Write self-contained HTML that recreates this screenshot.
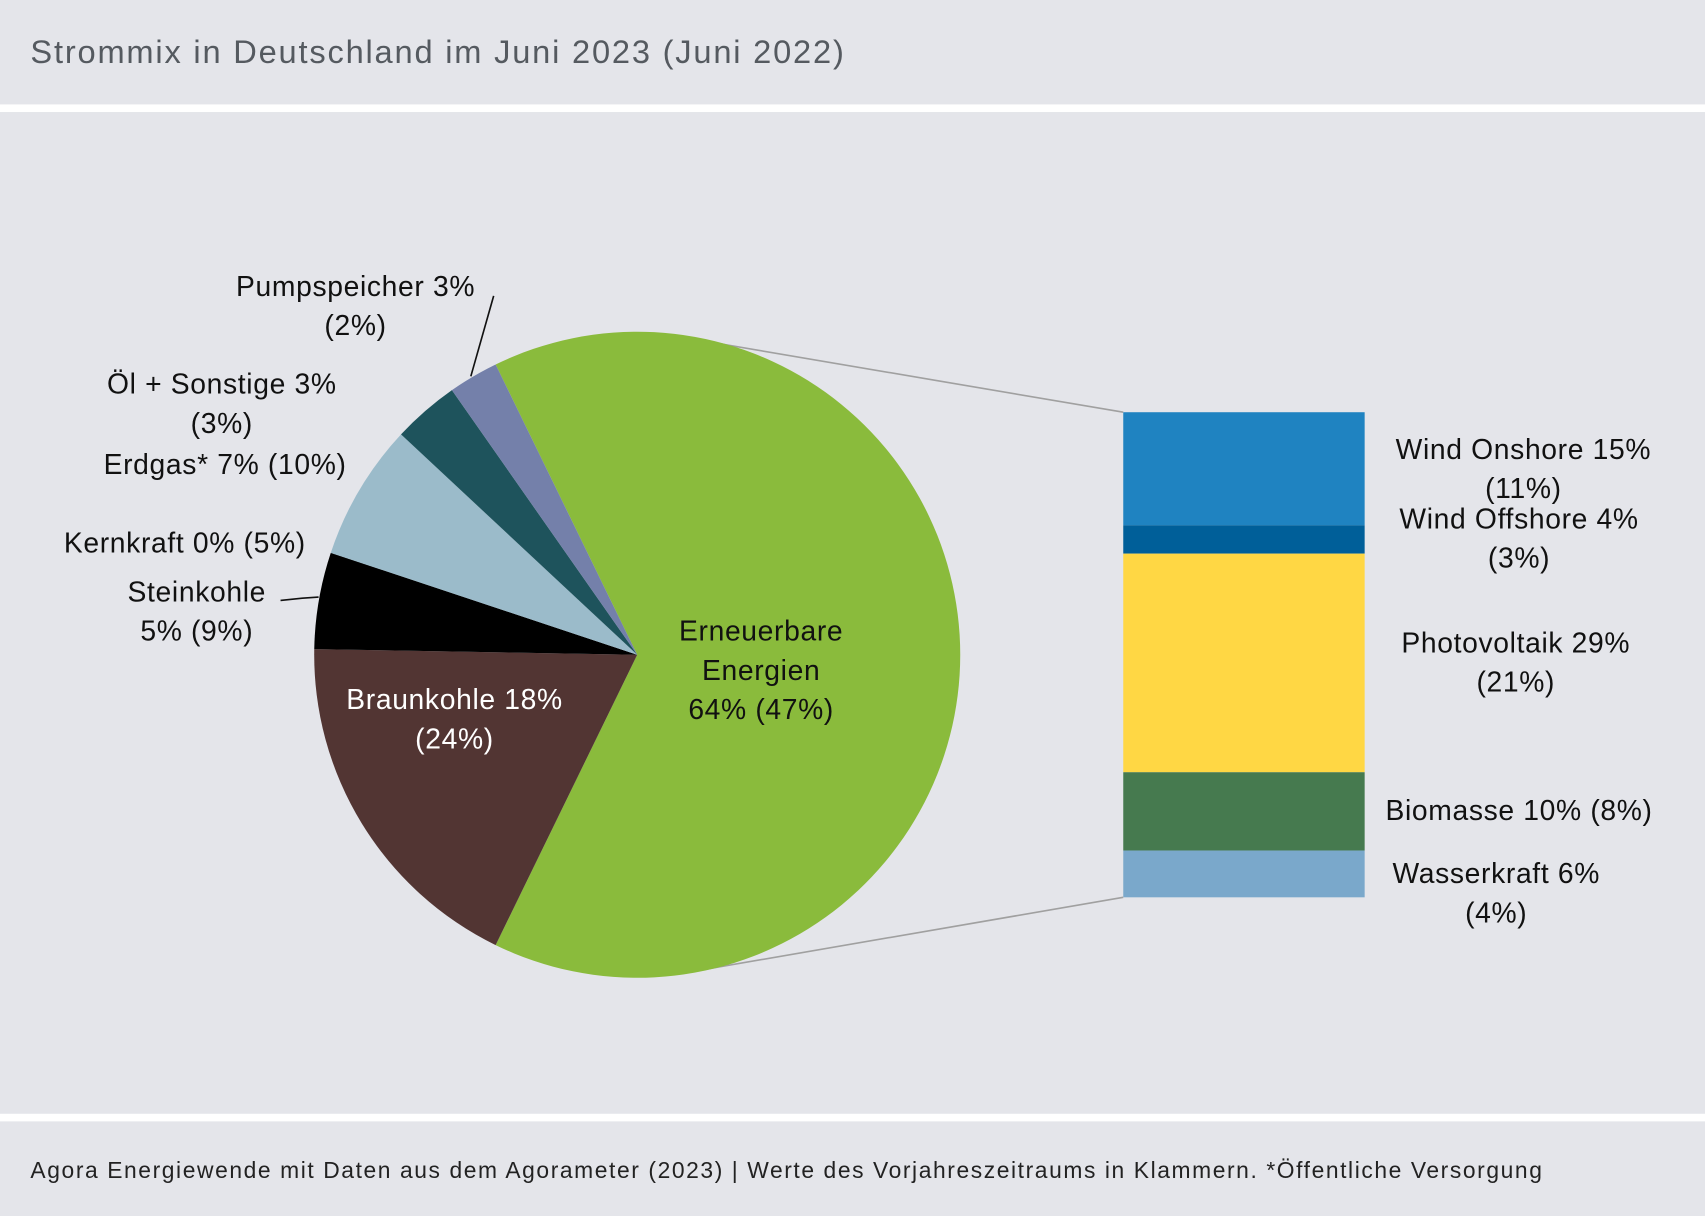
<!DOCTYPE html>
<html><head><meta charset="utf-8"><style>
html,body{margin:0;padding:0;background:#e4e5ea;}
svg{display:block;}
text{font-family:"Liberation Sans","DejaVu Sans",sans-serif;}
</style></head><body>
<svg width="1705" height="1216" viewBox="0 0 1568 1118" preserveAspectRatio="none" xmlns="http://www.w3.org/2000/svg">
<rect x="0" y="0" width="1568" height="1118" fill="#e4e5ea"/>
<rect x="0" y="96" width="1568" height="7" fill="#fff"/>
<rect x="0" y="1024" width="1568" height="7" fill="#fff"/>
<text x="28" y="58" font-size="30" fill="#555a60" textLength="748" lengthAdjust="spacing">Strommix in Deutschland im Juni 2023 (Juni 2022)</text>
<text x="28" y="1083" font-size="21" fill="#222" textLength="1390" lengthAdjust="spacing">Agora Energiewende mit Daten aus dem Agorameter (2023) | Werte des Vorjahreszeitraums in Klammern. *Öffentliche Versorgung</text>

<line x1="638" y1="312" x2="1033" y2="379" stroke="#a0a0a0" stroke-width="1.5"/>
<line x1="638" y1="893" x2="1033" y2="825" stroke="#a0a0a0" stroke-width="1.5"/>

<path d="M586,602 L455.8,335.1 A297,297 0 1 1 455.8,868.9 Z" fill="#8abb3c"/>
<path d="M586,602 L455.8,868.9 A297,297 0 0 1 289.0,596.8 Z" fill="#523533"/>
<path d="M586,602 L289.0,596.8 A297,297 0 0 1 304.2,508.3 Z" fill="#000"/>
<path d="M586,602 L304.2,508.3 A297,297 0 0 1 368.8,399.4 Z" fill="#9bbbca"/>
<path d="M586,602 L368.8,399.4 A297,297 0 0 1 415.6,358.7 Z" fill="#1e535c"/>
<path d="M586,602 L415.6,358.7 A297,297 0 0 1 455.8,335.1 Z" fill="#7480aa"/>

<rect x="1033" y="379" width="222" height="104" fill="#1f83c1"/>
<rect x="1033" y="483" width="222" height="26" fill="#005f99"/>
<rect x="1033" y="509" width="222" height="201" fill="#ffd744"/>
<rect x="1033" y="710" width="222" height="72" fill="#467a4f"/>
<rect x="1033" y="782" width="222" height="43" fill="#7aa8cb"/>

<g font-size="26" fill="#111" text-anchor="middle" letter-spacing="0.6">
<text x="700" y="589">Erneuerbare</text>
<text x="700" y="625">Energien</text>
<text x="700" y="661">64% (47%)</text>
<text x="418" y="652" fill="#fff">Braunkohle 18%</text>
<text x="418" y="688" fill="#fff">(24%)</text>
<text x="181" y="553">Steinkohle</text>
<text x="181" y="589">5% (9%)</text>
<text x="170" y="508">Kernkraft 0% (5%)</text>
<text x="207" y="436">Erdgas* 7% (10%)</text>
<text x="204" y="362">Öl + Sonstige 3%</text>
<text x="204" y="398">(3%)</text>
<text x="327" y="272">Pumpspeicher 3%</text>
<text x="327" y="308">(2%)</text>
<text x="1401" y="422">Wind Onshore 15%</text>
<text x="1401" y="458">(11%)</text>
<text x="1397" y="486">Wind Offshore 4%</text>
<text x="1397" y="522">(3%)</text>
<text x="1394" y="600">Photovoltaik 29%</text>
<text x="1394" y="636">(21%)</text>
<text x="1397" y="754">Biomasse 10% (8%)</text>
<text x="1376" y="812">Wasserkraft 6%</text>
<text x="1376" y="848">(4%)</text>
</g>
<polyline points="258,552 278,550 293,549" fill="none" stroke="#111" stroke-width="1.5"/>
<line x1="454" y1="272" x2="433" y2="346" stroke="#111" stroke-width="1.5"/>
</svg>
</body></html>
